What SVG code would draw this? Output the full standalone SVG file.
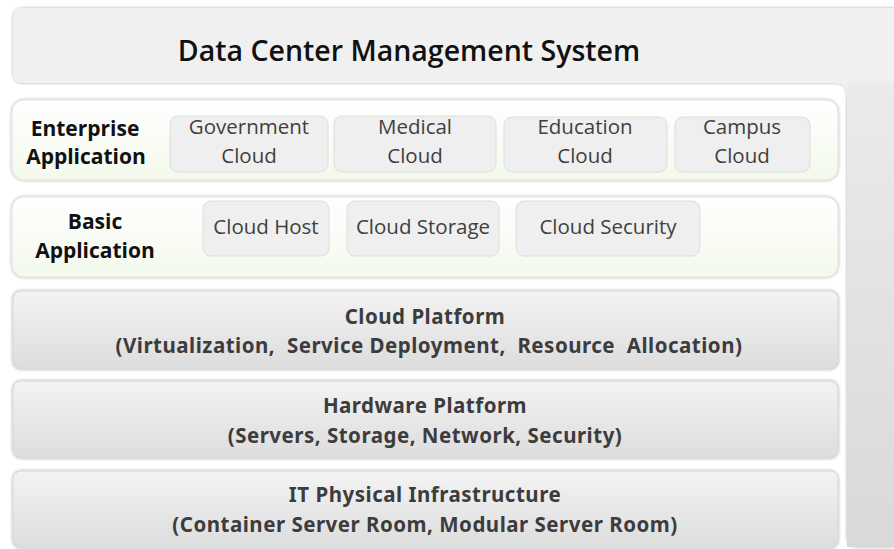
<svg xmlns="http://www.w3.org/2000/svg" width="894" height="549" viewBox="0 0 894 549">
  <defs>
    <linearGradient id="gTop" x1="0" y1="0" x2="0" y2="1">
      <stop offset="0" stop-color="#ebebeb"/>
      <stop offset="1" stop-color="#d9d9d9"/>
    </linearGradient>
    <linearGradient id="gApp" x1="0" y1="0" x2="0" y2="1">
      <stop offset="0" stop-color="#ffffff"/>
      <stop offset="1" stop-color="#f3f9ec"/>
    </linearGradient>
    <linearGradient id="gLayer" x1="0" y1="0" x2="0" y2="1">
      <stop offset="0" stop-color="#f3f3f3"/>
      <stop offset="1" stop-color="#dddddd"/>
    </linearGradient>
    <filter id="shadow" x="-5%" y="-10%" width="110%" height="120%">
      <feDropShadow dx="0" dy="0" stdDeviation="1.4" flood-color="#000" flood-opacity="0.35"/>
    </filter>
  </defs>
  <style>
    .title { font-family: "Open Sans", "Noto Sans", sans-serif; font-weight: 600; font-size: 28.5px; fill: #111; text-anchor: middle; }
    .lbl { font-family: "Open Sans", "Noto Sans", sans-serif; font-weight: 700; font-size: 21px; fill: #111; text-anchor: middle; }
    .item { fill: #efefef; stroke: #dedede; stroke-width: 1; }
    .itemtxt { font-family: "Open Sans", "Noto Sans", sans-serif; font-size: 20.5px; fill: #404040; text-anchor: middle; }
    .app { fill: url(#gApp); stroke: #e4e4e4; stroke-width: 1; filter: url(#shadow); }
    .layer { fill: url(#gLayer); stroke: #d6d6d6; stroke-width: 1; filter: url(#shadow); }
    .laytxt { font-family: "Noto Sans", "Open Sans", sans-serif; font-weight: 700; font-size: 20.5px; letter-spacing: 0.5px; fill: #3c3c3c; text-anchor: middle; }
  </style>

  <rect width="894" height="549" fill="#ffffff"/>

  <!-- management frame: top bar wrapping down the right side -->
  <g id="management">
    <path d="M13,18 Q13,8 23,8 H894 V547 H857 Q847,547 847,537 V95 Q847,83 835,83 H23 Q13,83 13,73 Z" fill="#f0f0f0" filter="url(#shadow)"/>
    <rect x="847" y="83" width="47" height="464" fill="url(#gTop)"/>
    <text class="title" x="409" y="61">Data Center Management System</text>
  </g>

  <!-- enterprise application layer -->
  <g id="enterprise">
    <rect class="app" x="12" y="100" width="826" height="80" rx="12"/>
    <text class="lbl" x="85" y="136">Enterprise</text>
    <text class="lbl" x="86" y="164">Application</text>
    <g id="gov">
      <rect class="item" x="170" y="116" width="158" height="56" rx="8"/>
      <text class="itemtxt" x="249" y="134">Government</text>
      <text class="itemtxt" x="249" y="163">Cloud</text>
    </g>
    <g id="medical">
      <rect class="item" x="334" y="116" width="162" height="56" rx="8"/>
      <text class="itemtxt" x="415" y="134">Medical</text>
      <text class="itemtxt" x="415" y="163">Cloud</text>
    </g>
    <g id="education">
      <rect class="item" x="504" y="117" width="163" height="55" rx="8"/>
      <text class="itemtxt" x="585" y="134">Education</text>
      <text class="itemtxt" x="585" y="163">Cloud</text>
    </g>
    <g id="campus">
      <rect class="item" x="675" y="117" width="135" height="55" rx="8"/>
      <text class="itemtxt" x="742" y="134">Campus</text>
      <text class="itemtxt" x="742" y="163">Cloud</text>
    </g>
  </g>

  <!-- basic application layer -->
  <g id="basic">
    <rect class="app" x="12" y="197" width="826" height="80" rx="12"/>
    <text class="lbl" x="95" y="229">Basic</text>
    <text class="lbl" x="95" y="258">Application</text>
    <g id="host">
      <rect class="item" x="203" y="201" width="126" height="55" rx="8"/>
      <text class="itemtxt" x="266" y="234">Cloud Host</text>
    </g>
    <g id="storage">
      <rect class="item" x="347" y="201" width="152" height="55" rx="8"/>
      <text class="itemtxt" x="423" y="234">Cloud Storage</text>
    </g>
    <g id="security">
      <rect class="item" x="516" y="201" width="184" height="55" rx="8"/>
      <text class="itemtxt" x="608" y="234">Cloud Security</text>
    </g>
  </g>

  <!-- platform layers -->
  <g id="cloudPlatform">
    <rect class="layer" x="13" y="291" width="825" height="78" rx="8"/>
    <text class="laytxt" x="425" y="324">Cloud Platform</text>
    <text class="laytxt" x="429" y="353" xml:space="preserve">(Virtualization,  Service Deployment,  Resource  Allocation)</text>
  </g>
  <g id="hardwarePlatform">
    <rect class="layer" x="13" y="381" width="825" height="77" rx="8"/>
    <text class="laytxt" x="425" y="413">Hardware Platform</text>
    <text class="laytxt" x="425" y="443">(Servers, Storage, Network, Security)</text>
  </g>
  <g id="physical">
    <rect class="layer" x="13" y="471" width="825" height="77" rx="8"/>
    <text class="laytxt" x="425" y="502">IT Physical Infrastructure</text>
    <text class="laytxt" x="425" y="532">(Container Server Room, Modular Server Room)</text>
  </g>

  <g id="connectors"/>
</svg>
